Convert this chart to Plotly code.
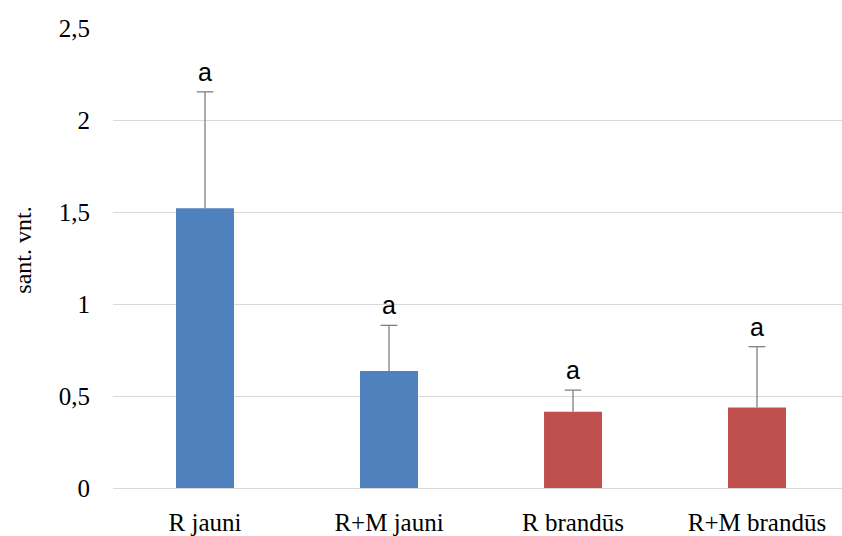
import plotly.graph_objects as go

# Group labels, mean values and upper ends of the error bars
categories = ["R jauni", "R+M jauni", "R brandūs", "R+M brandūs"]
means = [1.52, 0.636, 0.415, 0.437]
upper = [2.153, 0.884, 0.532, 0.768]
letters = ["a", "a", "a", "a"]
bar_colors = ["#4F81BD", "#4F81BD", "#C0504D", "#C0504D"]
y_ticks = [0, 0.5, 1, 1.5, 2, 2.5]
y_tick_text = ["0", "0,5", "1", "1,5", "2", "2,5"]

err_plus = [u - m for u, m in zip(upper, means)]

fig = go.Figure()

fig.add_trace(go.Bar(
    x=categories,
    y=means,
    marker=dict(color=bar_colors, line=dict(width=0)),
    width=0.315,
    error_y=dict(
        type="data",
        symmetric=False,
        array=err_plus,
        arrayminus=[0] * len(means),
        color="#808080",
        thickness=1.3,
        width=0,
    ),
    showlegend=False,
    hoverinfo="skip",
))

# Caps at the top of each error bar
fig.add_trace(go.Scatter(
    x=categories,
    y=upper,
    mode="markers",
    marker=dict(symbol="line-ew", size=12, line=dict(width=1.3, color="#808080")),
    showlegend=False,
    hoverinfo="skip",
))

# Significance letters above the error bars
for cat, top, letter in zip(categories, upper, letters):
    fig.add_annotation(
        x=cat, y=top, text=letter, showarrow=False,
        xanchor="center", yanchor="bottom", yshift=4,
        font=dict(family="Liberation Sans", size=25, color="#000000"),
    )

fig.add_annotation(
    xref="paper", yref="paper", x=-0.1235, y=0.518,
    text="sant. vnt.", showarrow=False, textangle=-90,
    xanchor="center", yanchor="middle",
    font=dict(family="Liberation Serif", size=24, color="#000000"),
)

fig.update_layout(
    width=842, height=536,
    margin=dict(l=113, r=0, t=28, b=45),
    paper_bgcolor="white",
    plot_bgcolor="white",
    bargap=0.685,
    xaxis=dict(
        type="category",
        range=[-0.5, 3.462],
        showgrid=False,
        showline=True,
        linecolor="#D9D9D9",
        linewidth=1.3,
        ticks="",
        ticklabelstandoff=12,
        tickfont=dict(family="Liberation Serif", size=25, color="#000000"),
        fixedrange=True,
    ),
    yaxis=dict(
        range=[0, 2.5],
        tickvals=y_ticks,
        ticktext=y_tick_text,
        showgrid=True,
        gridcolor="#D9D9D9",
        gridwidth=1.3,
        zeroline=False,
        showline=False,
        ticks="",
        ticklabelstandoff=22,
        tickfont=dict(family="Liberation Serif", size=25, color="#000000"),
        fixedrange=True,
    ),
)

fig.write_html("out.html")
